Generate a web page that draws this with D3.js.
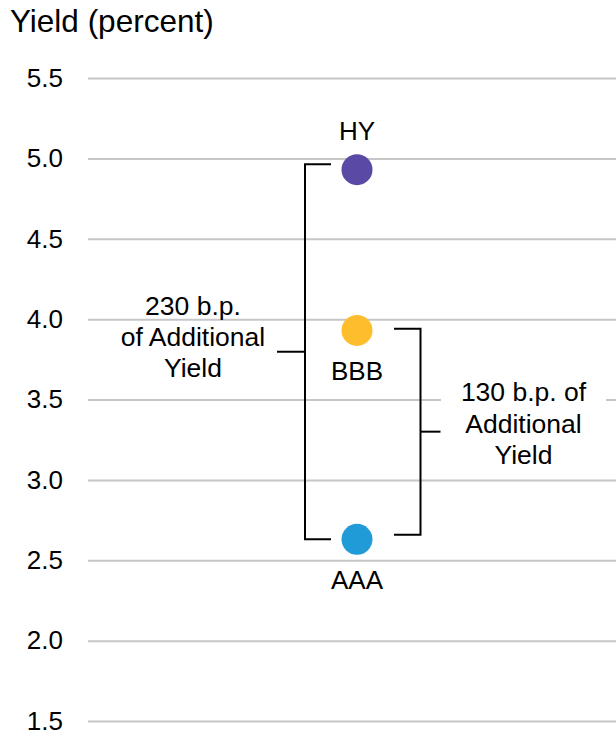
<!DOCTYPE html>
<html>
<head>
<meta charset="utf-8">
<script src="https://cdn.jsdelivr.net/npm/d3@7"></script>
<style>
  body { margin: 0; background: #fff; }
  svg { display: block; font-family: "Liberation Sans", Arial, sans-serif; }
</style>
</head>
<body>
<svg id="drawing_region"></svg>
<script>
// chart values
const ratings = ["HY", "BBB", "AAA"];
const yields = [4.93, 3.93, 2.63];
const colors = ["#5b4aa5", "#fdbd2c", "#219bd8"];
const yTicks = [1.5, 2.0, 2.5, 3.0, 3.5, 4.0, 4.5, 5.0, 5.5];
const leftNote = ["230 b.p.", "of Additional", "Yield"];
const rightNote = ["130 b.p. of", "Additional", "Yield"];

const config = {
    width: 616,
    height: 733,
    margin: {top: 78, right: 0, bottom: 12, left: 88}
};

const svg = d3.select('#drawing_region')
    .attr('width', config.width)
    .attr('height', config.height);

const yscale = d3.scaleLinear()
    .domain([1.5, 5.5])
    .range([config.height - config.margin.bottom, config.margin.top]);

const xscale = d3.scalePoint()
    .domain(["ratings"])
    .range([config.margin.left, 626]);

const xc = xscale("ratings");

// gridlines + tick labels
const yaxis = d3.axisLeft(yscale)
    .tickValues(yTicks)
    .tickFormat(d3.format(".1f"))
    .tickSize(-(config.width - config.margin.left))
    .tickPadding(25);

const yaxis_group = svg.append('g')
    .attr('transform', `translate(${config.margin.left}, 0)`)
    .call(yaxis);
yaxis_group.select('.domain').remove();
yaxis_group.selectAll('.tick line')
    .attr('stroke', '#c6c6c6')
    .attr('stroke-width', 2);
yaxis_group.selectAll('.tick text')
    .attr('fill', '#000')
    .attr('font-size', 26)
    .attr('font-family', '"Liberation Sans", Arial, sans-serif');

// title
svg.append('text')
    .attr('x', 10)
    .attr('y', 32)
    .attr('font-size', 31.5)
    .text('Yield (percent)');

const yHY = yscale(yields[0]);
const yBBB = yscale(yields[1]);
const yAAA = yscale(yields[2]);

// white box behind the right note
svg.append('rect')
    .attr('x', 441)
    .attr('y', 374)
    .attr('width', 165)
    .attr('height', 98)
    .attr('fill', '#fff');

// brackets
const bracket = d3.line();
const brackets = svg.append('g')
    .attr('fill', 'none')
    .attr('stroke', '#000')
    .attr('stroke-width', 2);

// left bracket: HY vs AAA
const lTop = yHY - 5.5, lBot = yAAA;
brackets.append('path')
    .attr('d', bracket([[xc - 26, lTop], [xc - 52, lTop], [xc - 52, lBot], [xc - 26, lBot]]));
brackets.append('path')
    .attr('d', bracket([[xc - 52, (lTop + lBot) / 2], [xc - 80, (lTop + lBot) / 2]]));

// right bracket: BBB vs AAA
const rTop = yBBB - 1.7, rBot = yAAA - 4.7;
brackets.append('path')
    .attr('d', bracket([[xc + 37, rTop], [xc + 63.5, rTop], [xc + 63.5, rBot], [xc + 37, rBot]]));
brackets.append('path')
    .attr('d', bracket([[xc + 63.5, (rTop + rBot) / 2], [xc + 83.5, (rTop + rBot) / 2]]));

// points
svg.selectAll('circle')
    .data(ratings)
    .join('circle')
    .attr('cx', xc)
    .attr('cy', (d, i) => yscale(yields[i]))
    .attr('r', 15.5)
    .attr('fill', (d, i) => colors[i]);

// point labels (HY above, others below)
svg.selectAll('.plabel')
    .data(ratings)
    .join('text')
    .attr('class', 'plabel')
    .attr('x', xc)
    .attr('y', (d, i) => i === 0 ? yscale(yields[i]) - 30 : yscale(yields[i]) + 50)
    .attr('text-anchor', 'middle')
    .attr('font-size', 26)
    .text(d => d);

// notes
svg.append('text')
    .attr('text-anchor', 'middle')
    .attr('font-size', 26.5)
    .selectAll('tspan')
    .data(leftNote)
    .join('tspan')
    .attr('x', 193)
    .attr('y', (d, i) => 315 + i * 31)
    .text(d => d);

svg.append('text')
    .attr('text-anchor', 'middle')
    .attr('font-size', 26.5)
    .selectAll('tspan')
    .data(rightNote)
    .join('tspan')
    .attr('x', 523.5)
    .attr('y', (d, i) => 401 + i * 31.5)
    .text(d => d);
</script>
</body>
</html>
